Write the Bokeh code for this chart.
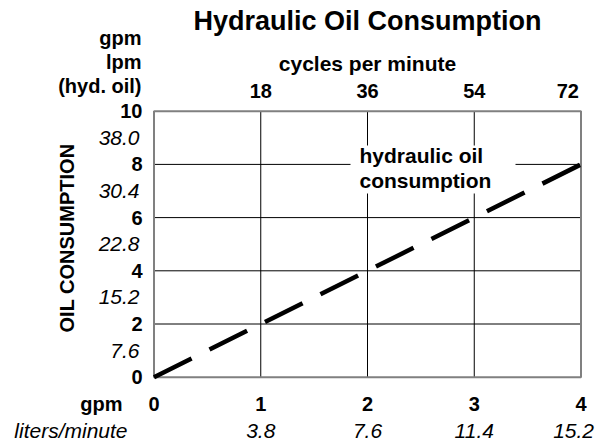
import math
from bokeh.plotting import figure
from bokeh.models import Range1d, Label, LabelSet, ColumnDataSource
from bokeh.embed import file_html
from bokeh.resources import INLINE
from bokeh.core.properties import value

# ---------------- data ----------------
title_text = "Hydraulic Oil Consumption"
flow_gpm = [0, 1, 2, 3, 4]                      # bottom axis (gpm)
flow_lpm = ["3.8", "7.6", "11.4", "15.2"]       # liters/minute for gpm 1..4
cycles = ["18", "36", "54", "72"]               # cycles per minute for gpm 1..4
oil_gpm_ticks = [0, 2, 4, 6, 8, 10]             # left axis (gpm hyd. oil)
oil_lpm_labels = ["7.6", "15.2", "22.8", "30.4", "38.0"]  # lpm for 2..10 gpm
line_x = [0, 1, 2, 3, 4]
consumption = [0, 2, 4, 6, 8]

FONT_NAME = "Liberation Sans"
FONT = value(FONT_NAME)

# ---------------- layout (pixels) ----------------
W, H = 602, 445
FL, FR, FT, FB = 153.5, 580.5, 110.7, 376.7     # plotting box edges
x0, x1 = flow_gpm[0], flow_gpm[-1]
y0, y1 = oil_gpm_ticks[0], oil_gpm_ticks[-1]
px_x = (FR - FL) / (x1 - x0)
px_y = (FB - FT) / (y1 - y0)

p = figure(width=W, height=H, output_backend="svg", toolbar_location=None,
           x_axis_type=None, y_axis_type=None,
           x_range=Range1d(x0 - FL / px_x, x1 + (W - FR) / px_x),
           y_range=Range1d(y0 - (H - FB) / px_y, y1 + FT / px_y),
           min_border=0)
p.title.visible = False
p.outline_line_color = None
p.background_fill_color = "white"
p.border_fill_color = "white"

# grid lines
gx = flow_gpm[1:-1]
p.segment(x0=gx, y0=[y0] * len(gx), x1=gx, y1=[y1] * len(gx),
          line_color="black", line_width=1)
gy = oil_gpm_ticks[1:-1]
p.segment(x0=[x0] * len(gy), y0=gy, x1=[x1] * len(gy), y1=gy,
          line_color="black", line_width=1)

# white box behind the annotation
note_x = x0 + (359 - FL) / px_x
note_y = y0 + (FB - 162) / px_y
p.quad(left=[note_x - 9 / px_x], right=[note_x + 156 / px_x],
       top=[note_y + 17 / px_y], bottom=[note_y - 31 / px_y],
       fill_color="white", line_color=None)

# plot border
p.quad(left=[x0], right=[x1], bottom=[y0], top=[y1], fill_color=None,
       line_color="#808080", line_width=2)

# dashed consumption line
p.line(line_x, consumption, line_color="black", line_width=4.5,
       line_dash="42 20", line_cap="butt")


def labset(xs, ys, texts, xo=0, yo=0, align="center", base="alphabetic",
           size="20px", style="bold"):
    src = ColumnDataSource(dict(x=xs, y=ys, text=texts))
    p.add_layout(LabelSet(x="x", y="y", text="text", source=src,
                          x_offset=xo, y_offset=yo, text_align=align,
                          text_baseline=base, text_font=FONT,
                          text_font_size=size, text_font_style=style,
                          text_color="black"))


def lab(text, x, y, xo=0, yo=0, align="left", base="alphabetic", size="20px",
        style="bold"):
    labset([x], [y], [text], xo=xo, yo=yo, align=align, base=base, size=size,
           style=style)


# annotation
lab("hydraulic oil", note_x, note_y, size="21px")
lab("consumption", note_x, note_y, yo=-25, size="21px")

# title
lab(title_text, (x0 + x1) / 2, y1, yo=FT - 30, align="center", size="27px")

# top: cycles per minute
lab("cycles per minute", (x0 + x1) / 2, y1, yo=FT - 70, align="center",
    size="21px")
labset(flow_gpm[1:-1], [y1] * (len(cycles) - 1), cycles[:-1], yo=FT - 97)
lab(cycles[-1], flow_gpm[-1], y1, xo=-2, yo=FT - 97, align="right")

# left header
for txt, base_y in zip(["gpm", "lpm", "(hyd. oil)"], [45, 68, 92]):
    lab(txt, x0, y1, xo=-(FL - 141), yo=FT - base_y, align="right")

# left tick labels: bold gpm and italic lpm
labset([x0] * len(oil_gpm_ticks), oil_gpm_ticks, [str(v) for v in oil_gpm_ticks],
       xo=-(FL - 142), yo=0, align="right", base="middle")
labset([x0] * len(oil_lpm_labels), [v - 1 for v in oil_gpm_ticks[1:]],
       oil_lpm_labels, xo=-(FL - 139), yo=0, align="right", base="middle",
       size="21px", style="italic")

# rotated axis title
p.add_layout(Label(x=x0, y=(y0 + y1) / 2, x_offset=-(FL - 66),
                   y_offset=(FB - 237.5) - (FB - FT) / 2, text="OIL CONSUMPTION",
                   text_align="center", text_baseline="middle",
                   text_font=FONT_NAME, text_font_size="20px",
                   text_font_style="bold", text_color="black",
                   angle=math.pi / 2))

# bottom tick labels: bold gpm and italic lpm
labset(flow_gpm, [y0] * len(flow_gpm), [str(v) for v in flow_gpm],
       yo=-(410 - FB))
labset(flow_gpm[1:-1], [y0] * (len(flow_lpm) - 1), flow_lpm[:-1],
       yo=-(437 - FB), size="21px", style="italic")
lab(flow_lpm[-1], flow_gpm[-1], y0, xo=13, yo=-(437 - FB), align="right",
    size="21px", style="italic")

# bottom headers
lab("gpm", x0, y0, xo=-(FL - 122), yo=-(410 - FB), align="right")
lab("liters/minute", x0, y0, xo=-(FL - 127), yo=-(437 - FB), align="right",
    style="italic", size="21px")

open("out.html", "w").write(file_html(p, INLINE))
